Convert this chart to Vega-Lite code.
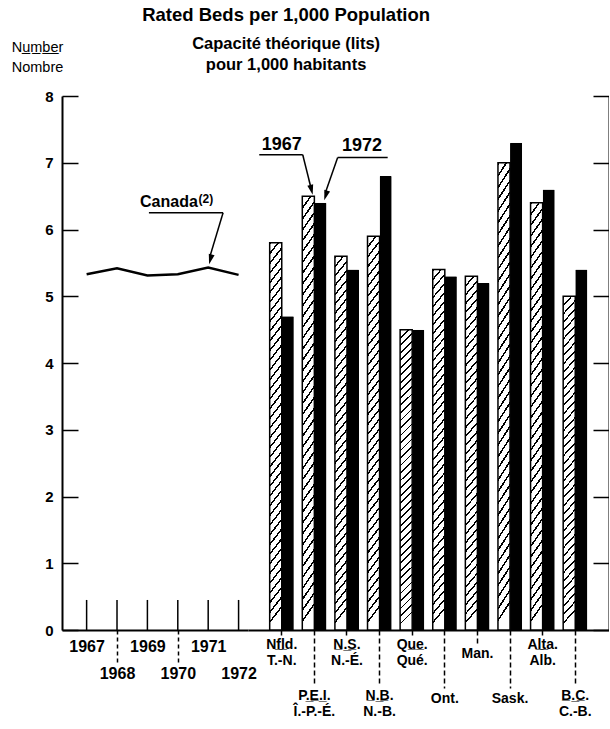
{
  "$schema": "https://vega.github.io/schema/vega-lite/v6.json",
  "padding": {"left": 11, "top": 6, "right": 0, "bottom": 2},
  "bounds": "flush",
  "spacing": 0,
  "config": {
    "view": {"stroke": null},
    "font": "Liberation Sans",
    "axis": {
      "domainColor": "#000", "domainWidth": 2, "tickColor": "#000", "tickWidth": 1.5,
      "labelColor": "#000", "labelFont": "Liberation Sans", "labelFontWeight": "bold",
      "grid": false, "titleColor": "#000", "labelOverlap": false, "labelFlush": false, "labelBound": false
    }
  },
  "title": {
    "text": "Rated Beds per 1,000 Population",
    "subtitle": ["Capacité  théorique (lits)", "pour 1,000 habitants"],
    "font": "Liberation Sans", "fontSize": 18.5, "fontWeight": "bold", "color": "#000",
    "subtitleFont": "Liberation Sans", "subtitleFontSize": 16.5, "subtitleFontWeight": "bold", "subtitleColor": "#000",
    "subtitlePadding": 11, "subtitleLineHeight": 21,
    "anchor": "middle", "dx": -24, "offset": -34
  },
  "datasets": {
    "canada": [
      {"year": 1967, "beds": 5.33},
      {"year": 1968, "beds": 5.42},
      {"year": 1969, "beds": 5.31},
      {"year": 1970, "beds": 5.33},
      {"year": 1971, "beds": 5.43},
      {"year": 1972, "beds": 5.32}
    ],
    "provinces": [
      {"province": "Nfld.", "year": "1967", "beds": 5.8},
      {"province": "Nfld.", "year": "1972", "beds": 4.7},
      {"province": "P.E.I.", "year": "1967", "beds": 6.5},
      {"province": "P.E.I.", "year": "1972", "beds": 6.4},
      {"province": "N.S.", "year": "1967", "beds": 5.6},
      {"province": "N.S.", "year": "1972", "beds": 5.4},
      {"province": "N.B.", "year": "1967", "beds": 5.9},
      {"province": "N.B.", "year": "1972", "beds": 6.8},
      {"province": "Que.", "year": "1967", "beds": 4.5},
      {"province": "Que.", "year": "1972", "beds": 4.5},
      {"province": "Ont.", "year": "1967", "beds": 5.4},
      {"province": "Ont.", "year": "1972", "beds": 5.3},
      {"province": "Man.", "year": "1967", "beds": 5.3},
      {"province": "Man.", "year": "1972", "beds": 5.2},
      {"province": "Sask.", "year": "1967", "beds": 7.0},
      {"province": "Sask.", "year": "1972", "beds": 7.3},
      {"province": "Alta.", "year": "1967", "beds": 6.4},
      {"province": "Alta.", "year": "1972", "beds": 6.6},
      {"province": "B.C.", "year": "1967", "beds": 5.0},
      {"province": "B.C.", "year": "1972", "beds": 5.4}
    ]
  },
  "hconcat": [
    {
      "width": 186, "height": 534,
      "layer": [
        {
          "data": {"name": "canada"},
          "mark": {"type": "rule", "color": "#000", "strokeWidth": 1.5},
          "encoding": {
            "x": {
              "field": "year", "type": "quantitative",
              "scale": {"domain": [1966.19, 1972.31], "nice": false, "zero": false},
              "axis": {
                "title": null, "values": [1967, 1968, 1969, 1970, 1971, 1972], "tickCount": 12, "format": "d",
                "labelFontSize": 16, "labelBaseline": "top", "tickDash": [4, 3],
                "labelOverlap": false, "labelFlush": false,
                "tickSize": {"condition": {"test": "indexof([1968, 1970], datum.value) >= 0", "value": 32}, "value": 0},
                "labelPadding": {"expr": "indexof([1968, 1970], datum.value) >= 0 ? 3 : (datum.value === 1972 ? 35 : 8)"}
              }
            },
            "y": {
              "datum": 0, "type": "quantitative",
              "scale": {"domain": [0, 8], "nice": false},
              "axis": {
                "orient": "left", "values": [0, 1, 2, 3, 4, 5, 6, 7, 8], "format": "d", "tickCount": 12,
                "ticks": false, "grid": true, "gridDash": [16, 1000], "gridColor": "#000", "gridWidth": 1.5,
                "labelPadding": 9, "labelFontSize": 15,
                "title": ["Nu\u0332m\u0332b\u0332e\u0332r", "Nombre"],
                "titleAngle": 0, "titleAlign": "center", "titleBaseline": "bottom",
                "titleX": -25, "titleY": -42, "titleFont": "Liberation Sans",
                "titleFontSize": 14.5, "titleFontWeight": "normal", "titleLineHeight": 20
              }
            },
            "y2": {"datum": 0.45}
          }
        },
        {
          "data": {"name": "canada"},
          "mark": {"type": "line", "color": "#000", "strokeWidth": 2.5},
          "encoding": {
            "x": {"field": "year", "type": "quantitative"},
            "y": {"field": "beds", "type": "quantitative"}
          }
        },
        {
          "data": {"values": [{}]},
          "mark": {"type": "text", "text": "Canada", "align": "right", "baseline": "alphabetic", "fontSize": 16, "fontWeight": "bold", "color": "#000"},
          "encoding": {
            "x": {"datum": 1970.66, "type": "quantitative"},
            "y": {"datum": 6.34, "type": "quantitative"}
          }
        },
        {
          "data": {"values": [{}]},
          "mark": {"type": "text", "text": "(2)", "align": "left", "baseline": "alphabetic", "fontSize": 12, "fontWeight": "bold", "color": "#000"},
          "encoding": {
            "x": {"datum": 1970.68, "type": "quantitative"},
            "y": {"datum": 6.4, "type": "quantitative"}
          }
        },
        {
          "data": {"values": [{}]},
          "mark": {"type": "rule", "color": "#000", "strokeWidth": 1.5},
          "encoding": {
            "x": {"datum": 1969.05, "type": "quantitative"},
            "x2": {"datum": 1971.49},
            "y": {"datum": 6.25, "type": "quantitative"},
            "y2": {"datum": 6.25}
          }
        },
        {
          "data": {"values": [{}]},
          "mark": {"type": "rule", "color": "#000", "strokeWidth": 1.5},
          "encoding": {
            "x": {"datum": 1971.49, "type": "quantitative"},
            "x2": {"datum": 1971.06},
            "y": {"datum": 6.25, "type": "quantitative"},
            "y2": {"datum": 5.6}
          }
        },
        {
          "data": {"values": [{}]},
          "mark": {"type": "point", "shape": "M0,0L-0.3,-1L0.3,-1Z", "size": 400, "filled": true, "color": "#000", "opacity": 1, "angle": 15},
          "encoding": {
            "x": {"datum": 1971.03, "type": "quantitative"},
            "y": {"datum": 5.48, "type": "quantitative"}
          }
        }
      ]
    },
    {
      "width": 361, "height": 534,
      "layer": [
        {
          "data": {"name": "provinces"},
          "transform": [{"filter": "datum.year === '1967'"}],
          "mark": {
            "type": "bar", "stroke": "#000", "strokeWidth": 1.5,
            "fill": {
              "gradient": "linear", "x1": 0, "y1": 0, "x2": 0.04, "y2": 1,
              "stops": [
                {"offset": 0, "color": "#000"}, {"offset": 0.006, "color": "#000"}, {"offset": 0.006, "color": "#fff"}, {"offset": 0.025, "color": "#fff"},
                {"offset": 0.025, "color": "#000"}, {"offset": 0.031, "color": "#000"}, {"offset": 0.031, "color": "#fff"}, {"offset": 0.05, "color": "#fff"},
                {"offset": 0.05, "color": "#000"}, {"offset": 0.056, "color": "#000"}, {"offset": 0.056, "color": "#fff"}, {"offset": 0.075, "color": "#fff"},
                {"offset": 0.075, "color": "#000"}, {"offset": 0.081, "color": "#000"}, {"offset": 0.081, "color": "#fff"}, {"offset": 0.1, "color": "#fff"},
                {"offset": 0.1, "color": "#000"}, {"offset": 0.106, "color": "#000"}, {"offset": 0.106, "color": "#fff"}, {"offset": 0.125, "color": "#fff"},
                {"offset": 0.125, "color": "#000"}, {"offset": 0.131, "color": "#000"}, {"offset": 0.131, "color": "#fff"}, {"offset": 0.15, "color": "#fff"},
                {"offset": 0.15, "color": "#000"}, {"offset": 0.156, "color": "#000"}, {"offset": 0.156, "color": "#fff"}, {"offset": 0.175, "color": "#fff"},
                {"offset": 0.175, "color": "#000"}, {"offset": 0.181, "color": "#000"}, {"offset": 0.181, "color": "#fff"}, {"offset": 0.2, "color": "#fff"},
                {"offset": 0.2, "color": "#000"}, {"offset": 0.206, "color": "#000"}, {"offset": 0.206, "color": "#fff"}, {"offset": 0.225, "color": "#fff"},
                {"offset": 0.225, "color": "#000"}, {"offset": 0.231, "color": "#000"}, {"offset": 0.231, "color": "#fff"}, {"offset": 0.25, "color": "#fff"},
                {"offset": 0.25, "color": "#000"}, {"offset": 0.256, "color": "#000"}, {"offset": 0.256, "color": "#fff"}, {"offset": 0.275, "color": "#fff"},
                {"offset": 0.275, "color": "#000"}, {"offset": 0.281, "color": "#000"}, {"offset": 0.281, "color": "#fff"}, {"offset": 0.3, "color": "#fff"},
                {"offset": 0.3, "color": "#000"}, {"offset": 0.306, "color": "#000"}, {"offset": 0.306, "color": "#fff"}, {"offset": 0.325, "color": "#fff"},
                {"offset": 0.325, "color": "#000"}, {"offset": 0.331, "color": "#000"}, {"offset": 0.331, "color": "#fff"}, {"offset": 0.35, "color": "#fff"},
                {"offset": 0.35, "color": "#000"}, {"offset": 0.356, "color": "#000"}, {"offset": 0.356, "color": "#fff"}, {"offset": 0.375, "color": "#fff"},
                {"offset": 0.375, "color": "#000"}, {"offset": 0.381, "color": "#000"}, {"offset": 0.381, "color": "#fff"}, {"offset": 0.4, "color": "#fff"},
                {"offset": 0.4, "color": "#000"}, {"offset": 0.406, "color": "#000"}, {"offset": 0.406, "color": "#fff"}, {"offset": 0.425, "color": "#fff"},
                {"offset": 0.425, "color": "#000"}, {"offset": 0.431, "color": "#000"}, {"offset": 0.431, "color": "#fff"}, {"offset": 0.45, "color": "#fff"},
                {"offset": 0.45, "color": "#000"}, {"offset": 0.456, "color": "#000"}, {"offset": 0.456, "color": "#fff"}, {"offset": 0.475, "color": "#fff"},
                {"offset": 0.475, "color": "#000"}, {"offset": 0.481, "color": "#000"}, {"offset": 0.481, "color": "#fff"}, {"offset": 0.5, "color": "#fff"},
                {"offset": 0.5, "color": "#000"}, {"offset": 0.506, "color": "#000"}, {"offset": 0.506, "color": "#fff"}, {"offset": 0.525, "color": "#fff"},
                {"offset": 0.525, "color": "#000"}, {"offset": 0.531, "color": "#000"}, {"offset": 0.531, "color": "#fff"}, {"offset": 0.55, "color": "#fff"},
                {"offset": 0.55, "color": "#000"}, {"offset": 0.556, "color": "#000"}, {"offset": 0.556, "color": "#fff"}, {"offset": 0.575, "color": "#fff"},
                {"offset": 0.575, "color": "#000"}, {"offset": 0.581, "color": "#000"}, {"offset": 0.581, "color": "#fff"}, {"offset": 0.6, "color": "#fff"},
                {"offset": 0.6, "color": "#000"}, {"offset": 0.606, "color": "#000"}, {"offset": 0.606, "color": "#fff"}, {"offset": 0.625, "color": "#fff"},
                {"offset": 0.625, "color": "#000"}, {"offset": 0.631, "color": "#000"}, {"offset": 0.631, "color": "#fff"}, {"offset": 0.65, "color": "#fff"},
                {"offset": 0.65, "color": "#000"}, {"offset": 0.656, "color": "#000"}, {"offset": 0.656, "color": "#fff"}, {"offset": 0.675, "color": "#fff"},
                {"offset": 0.675, "color": "#000"}, {"offset": 0.681, "color": "#000"}, {"offset": 0.681, "color": "#fff"}, {"offset": 0.7, "color": "#fff"},
                {"offset": 0.7, "color": "#000"}, {"offset": 0.706, "color": "#000"}, {"offset": 0.706, "color": "#fff"}, {"offset": 0.725, "color": "#fff"},
                {"offset": 0.725, "color": "#000"}, {"offset": 0.731, "color": "#000"}, {"offset": 0.731, "color": "#fff"}, {"offset": 0.75, "color": "#fff"},
                {"offset": 0.75, "color": "#000"}, {"offset": 0.756, "color": "#000"}, {"offset": 0.756, "color": "#fff"}, {"offset": 0.775, "color": "#fff"},
                {"offset": 0.775, "color": "#000"}, {"offset": 0.781, "color": "#000"}, {"offset": 0.781, "color": "#fff"}, {"offset": 0.8, "color": "#fff"},
                {"offset": 0.8, "color": "#000"}, {"offset": 0.806, "color": "#000"}, {"offset": 0.806, "color": "#fff"}, {"offset": 0.825, "color": "#fff"},
                {"offset": 0.825, "color": "#000"}, {"offset": 0.831, "color": "#000"}, {"offset": 0.831, "color": "#fff"}, {"offset": 0.85, "color": "#fff"},
                {"offset": 0.85, "color": "#000"}, {"offset": 0.856, "color": "#000"}, {"offset": 0.856, "color": "#fff"}, {"offset": 0.875, "color": "#fff"},
                {"offset": 0.875, "color": "#000"}, {"offset": 0.881, "color": "#000"}, {"offset": 0.881, "color": "#fff"}, {"offset": 0.9, "color": "#fff"},
                {"offset": 0.9, "color": "#000"}, {"offset": 0.906, "color": "#000"}, {"offset": 0.906, "color": "#fff"}, {"offset": 0.925, "color": "#fff"},
                {"offset": 0.925, "color": "#000"}, {"offset": 0.931, "color": "#000"}, {"offset": 0.931, "color": "#fff"}, {"offset": 0.95, "color": "#fff"},
                {"offset": 0.95, "color": "#000"}, {"offset": 0.956, "color": "#000"}, {"offset": 0.956, "color": "#fff"}, {"offset": 0.975, "color": "#fff"},
                {"offset": 0.975, "color": "#000"}, {"offset": 0.981, "color": "#000"}, {"offset": 0.981, "color": "#fff"}, {"offset": 1, "color": "#fff"}
              ]
            }
          },
          "encoding": {
            "x": {
              "field": "province", "type": "nominal",
              "sort": ["Nfld.", "P.E.I.", "N.S.", "N.B.", "Que.", "Ont.", "Man.", "Sask.", "Alta.", "B.C."],
              "scale": {"paddingInner": 0.26, "paddingOuter": 0.665},
              "axis": {
                "title": null, "labelFontSize": 14, "labelBaseline": "top", "labelLineHeight": 16, "labelAngle": 0,
                "labelExpr": "{'Nfld.': ['Nf\u0332l\u0332d.', 'T.-N.'], 'P.E.I.': ['P.\u0332E\u0332.\u0332I.', 'Î.-P.-É.'], 'N.S.': ['N\u0332.\u0332S\u0332.', 'N.-É.'], 'N.B.': ['N\u0332.\u0332B\u0332.', 'N.-B.'], 'Que.': ['Qu\u0332e\u0332.', 'Qué.'], 'Ont.': 'Ont.', 'Man.': 'Man.', 'Sask.': 'Sask.', 'Alta.': ['Al\u0332t\u0332a.', 'Alb.'], 'B.C.': ['B\u0332.\u0332C\u0332.', 'C.-B.']}[datum.value]",
                "tickSize": {"expr": "indexof(['P.E.I.', 'N.B.', 'B.C.'], datum.value) >= 0 ? 54 : (indexof(['Ont.', 'Sask.'], datum.value) >= 0 ? 58 : (datum.value === 'Man.' ? 13 : 5))"},
                "tickDash": {"expr": "indexof(['Nfld.', 'N.S.', 'Que.', 'Alta.'], datum.value) >= 0 ? [] : [5, 3]"},
                "labelPadding": {"expr": "indexof(['P.E.I.', 'N.B.', 'B.C.'], datum.value) >= 0 ? 4 : (indexof(['Ont.', 'Sask.'], datum.value) >= 0 ? 3 : (datum.value === 'Man.' ? 3 : 2))"}
              }
            },
            "xOffset": {"field": "year", "type": "nominal", "scale": {"domain": ["1967", "1972"], "paddingInner": 0, "paddingOuter": 0}},
            "y": {
              "field": "beds", "type": "quantitative",
              "scale": {"domain": [0, 8], "nice": false},
              "axis": {"orient": "right", "values": [0, 1, 2, 3, 4, 5, 6, 7, 8], "tickCount": 12, "labels": false, "ticks": false, "grid": true, "gridDash": [16, 1000], "gridColor": "#000", "gridWidth": 1.5, "title": null}
            }
          }
        },
        {
          "data": {"name": "provinces"},
          "transform": [{"filter": "datum.year === '1972'"}],
          "mark": {"type": "bar", "fill": "#000", "cornerRadiusTopLeft": 1, "cornerRadiusTopRight": 1},
          "encoding": {
            "x": {"field": "province", "type": "nominal", "sort": ["Nfld.", "P.E.I.", "N.S.", "N.B.", "Que.", "Ont.", "Man.", "Sask.", "Alta.", "B.C."]},
            "xOffset": {"field": "year", "type": "nominal"},
            "y": {"field": "beds", "type": "quantitative"}
          }
        },
        {
          "data": {"values": [{}]},
          "mark": {"type": "text", "text": "1967", "align": "center", "baseline": "alphabetic", "fontSize": 18, "fontWeight": "bold", "color": "#000"},
          "encoding": {
            "x": {"datum": "Nfld.", "type": "nominal"},
            "y": {"datum": 7.19, "type": "quantitative"}
          }
        },
        {
          "data": {"values": [{}]},
          "mark": {"type": "text", "text": "1972", "align": "center", "baseline": "alphabetic", "fontSize": 18, "fontWeight": "bold", "color": "#000", "dx": 15},
          "encoding": {
            "x": {"datum": "N.S.", "type": "nominal"},
            "y": {"datum": 7.17, "type": "quantitative"}
          }
        },
        {
          "data": {"values": [{}]},
          "mark": {"type": "rule", "color": "#000", "strokeWidth": 1.5, "xOffset": -22.5, "x2Offset": 21},
          "encoding": {
            "x": {"datum": "Nfld.", "type": "nominal"},
            "x2": {"datum": "Nfld."},
            "y": {"datum": 7.12, "type": "quantitative"},
            "y2": {"datum": 7.12}
          }
        },
        {
          "data": {"values": [{}]},
          "mark": {"type": "rule", "color": "#000", "strokeWidth": 1.5, "xOffset": 21, "x2Offset": -3},
          "encoding": {
            "x": {"datum": "Nfld.", "type": "nominal"},
            "x2": {"datum": "P.E.I."},
            "y": {"datum": 7.12, "type": "quantitative"},
            "y2": {"datum": 6.6}
          }
        },
        {
          "data": {"values": [{}]},
          "mark": {"type": "point", "shape": "M0,0L-0.3,-1L0.3,-1Z", "size": 400, "filled": true, "color": "#000", "opacity": 1, "angle": 346, "xOffset": -1.7},
          "encoding": {
            "x": {"datum": "P.E.I.", "type": "nominal"},
            "y": {"datum": 6.52, "type": "quantitative"}
          }
        },
        {
          "data": {"values": [{}]},
          "mark": {"type": "rule", "color": "#000", "strokeWidth": 1.5, "xOffset": -9.3, "x2Offset": 40.7},
          "encoding": {
            "x": {"datum": "N.S.", "type": "nominal"},
            "x2": {"datum": "N.S."},
            "y": {"datum": 7.08, "type": "quantitative"},
            "y2": {"datum": 7.08}
          }
        },
        {
          "data": {"values": [{}]},
          "mark": {"type": "rule", "color": "#000", "strokeWidth": 1.5, "xOffset": -9.3, "x2Offset": 11},
          "encoding": {
            "x": {"datum": "N.S.", "type": "nominal"},
            "x2": {"datum": "P.E.I."},
            "y": {"datum": 7.08, "type": "quantitative"},
            "y2": {"datum": 6.55}
          }
        },
        {
          "data": {"values": [{}]},
          "mark": {"type": "point", "shape": "M0,0L-0.3,-1L0.3,-1Z", "size": 400, "filled": true, "color": "#000", "opacity": 1, "angle": 17, "xOffset": 9.9},
          "encoding": {
            "x": {"datum": "P.E.I.", "type": "nominal"},
            "y": {"datum": 6.44, "type": "quantitative"}
          }
        }
      ]
    }
  ]
}
